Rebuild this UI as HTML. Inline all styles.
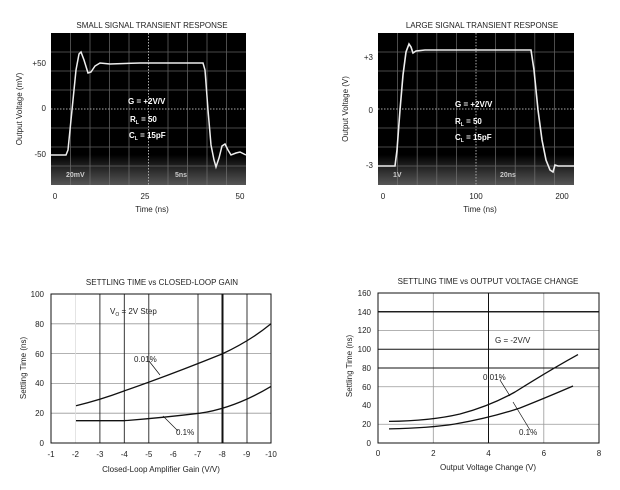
<!DOCTYPE html>
<html><head><meta charset="utf-8"><style>
html,body{margin:0;padding:0;background:#fff;}
svg{display:block;font-family:"Liberation Sans",sans-serif;}
</style></head><body>
<svg width="620" height="490" viewBox="0 0 620 490" xmlns="http://www.w3.org/2000/svg">
<defs>
<linearGradient id="glow" x1="0" y1="0" x2="0" y2="1">
<stop offset="0.8" stop-color="#000"/><stop offset="1" stop-color="#555"/>
</linearGradient>
</defs>
<!-- Chart 1 -->
<text x="152" y="28" font-size="8" text-anchor="middle" fill="#222">SMALL SIGNAL TRANSIENT RESPONSE</text>
<rect x="51" y="33" width="195" height="152" fill="url(#glow)"/>
<g stroke="#777" stroke-width="0.8" opacity="0.8">
<path d="M70.5 33V185M90 33V185M109.5 33V185M129 33V185M168 33V185M187.5 33V185M207 33V185M226.5 33V185"/>
<path d="M51 52H246M51 71H246M51 90H246M51 128H246M51 147H246M51 166H246"/>
</g>
<path d="M148.5 33V185M51 109H246" stroke="#aaa" stroke-width="1" stroke-dasharray="1.5 1.5"/>
<path d="M51 155L66 155L68 150L72 110L76 70L79 54L81 52L84 60L88 73L91 72L95 66L100 63L110 64L140 63L203 63L205 70L208 110L211 145L214 160L216 167L219 158L222 146L225 144L228 150L231 155L236 153L240 152L246 155" fill="none" stroke="#eee" stroke-width="1.5"/>
<g fill="#fff" font-weight="bold" font-size="8">
<text x="128" y="104">G = +2V/V</text>
<text x="130" y="122">R<tspan font-size="5" dy="2">L</tspan><tspan dy="-2"> = 50</tspan></text>
<text x="129" y="138">C<tspan font-size="5" dy="2">L</tspan><tspan dy="-2"> = 15pF</tspan></text>
<text x="66" y="177" fill="#ccc" font-size="7">20mV</text>
<text x="175" y="177" fill="#ccc" font-size="7">5ns</text>
</g>
<g font-size="8" fill="#222">
<text x="46" y="66" text-anchor="end">+50</text>
<text x="46" y="111" text-anchor="end">0</text>
<text x="46" y="157" text-anchor="end">-50</text>
<text x="55" y="199" text-anchor="middle">0</text>
<text x="145" y="199" text-anchor="middle">25</text>
<text x="240" y="199" text-anchor="middle">50</text>
<text x="152" y="212" text-anchor="middle">Time (ns)</text>
<text transform="translate(22,109) rotate(-90)" text-anchor="middle">Output Voltage (mV)</text>
</g>
<!-- Chart 2 -->
<text x="482" y="28" font-size="8" text-anchor="middle" fill="#222">LARGE SIGNAL TRANSIENT RESPONSE</text>
<rect x="378" y="33" width="196" height="152" fill="url(#glow)"/>
<g stroke="#777" stroke-width="0.8" opacity="0.8">
<path d="M397.6 33V185M417.2 33V185M436.8 33V185M456.4 33V185M495.6 33V185M515.2 33V185M534.8 33V185M554.4 33V185"/>
<path d="M378 52H574M378 71H574M378 90H574M378 128H574M378 147H574M378 166H574"/>
</g>
<path d="M476 33V185M378 109H574" stroke="#aaa" stroke-width="1" stroke-dasharray="1.5 1.5"/>
<path d="M378 166L395 166L397 150L400 110L403 75L406 52L409 44L411 47L413 53L416 51L425 50L531 50L534 70L538 110L542 140L546 160L550 170L553 172L555 165L558 166L574 166" fill="none" stroke="#eee" stroke-width="1.6"/>
<g fill="#fff" font-weight="bold" font-size="8">
<text x="455" y="107">G = +2V/V</text>
<text x="455" y="124">R<tspan font-size="5" dy="2">L</tspan><tspan dy="-2"> = 50</tspan></text>
<text x="455" y="140">C<tspan font-size="5" dy="2">L</tspan><tspan dy="-2"> = 15pF</tspan></text>
<text x="393" y="177" fill="#ccc" font-size="7">1V</text>
<text x="500" y="177" fill="#ccc" font-size="7">20ns</text>
</g>
<g font-size="8" fill="#222">
<text x="373" y="60" text-anchor="end">+3</text>
<text x="373" y="113" text-anchor="end">0</text>
<text x="373" y="168" text-anchor="end">-3</text>
<text x="383" y="199" text-anchor="middle">0</text>
<text x="476" y="199" text-anchor="middle">100</text>
<text x="562" y="199" text-anchor="middle">200</text>
<text x="480" y="212" text-anchor="middle">Time (ns)</text>
<text transform="translate(348,109) rotate(-90)" text-anchor="middle">Output Voltage (V)</text>
</g>
<!-- Chart 3 -->
<text x="162" y="285" font-size="8" text-anchor="middle" fill="#222">SETTLING TIME vs CLOSED-LOOP GAIN</text>
<g stroke="#999" stroke-width="0.8">
<path d="M51 413.2H271M51 383.4H271M51 353.6H271M51 323.8H271"/>
<path d="M75.4 294V443" stroke="#ddd"/>
</g>
<g stroke="#222" stroke-width="0.9">
<path d="M99.9 294V443M124.3 294V443M148.8 294V443M198 294V443M247 294V443"/>
</g>
<path d="M222.5 294V443" stroke="#111" stroke-width="2"/>
<rect x="51" y="294" width="220" height="149" fill="none" stroke="#111" stroke-width="1"/>
<path d="M76 405.7Q100 400 124 391Q170 375 222 354Q250 341 271 323.8" fill="none" stroke="#111" stroke-width="1.3"/>
<path d="M76 420.7L124 420.7Q160 418 200 413.2Q235 408 271 386.4" fill="none" stroke="#111" stroke-width="1.3"/>
<path d="M149 361L160 375M163 416L178 431" stroke="#111" stroke-width="0.7"/>
<g font-size="8" fill="#222">
<text x="110" y="314">V<tspan font-size="5" dy="2">O</tspan><tspan dy="-2"> = 2V Step</tspan></text>
<text x="134" y="362">0.01%</text>
<text x="176" y="435">0.1%</text>
<text x="44" y="297" text-anchor="end">100</text>
<text x="44" y="327" text-anchor="end">80</text>
<text x="44" y="357" text-anchor="end">60</text>
<text x="44" y="386" text-anchor="end">40</text>
<text x="44" y="416" text-anchor="end">20</text>
<text x="44" y="446" text-anchor="end">0</text>
<text x="51" y="457" text-anchor="middle">-1</text>
<text x="75.4" y="457" text-anchor="middle">-2</text>
<text x="99.9" y="457" text-anchor="middle">-3</text>
<text x="124.3" y="457" text-anchor="middle">-4</text>
<text x="148.8" y="457" text-anchor="middle">-5</text>
<text x="173.2" y="457" text-anchor="middle">-6</text>
<text x="197.7" y="457" text-anchor="middle">-7</text>
<text x="222.1" y="457" text-anchor="middle">-8</text>
<text x="246.6" y="457" text-anchor="middle">-9</text>
<text x="271" y="457" text-anchor="middle">-10</text>
<text x="161" y="472" text-anchor="middle">Closed-Loop Amplifier Gain (V/V)</text>
<text transform="translate(26,368) rotate(-90)" text-anchor="middle">Settling Time (ns)</text>
</g>
<!-- Chart 4 -->
<text x="488" y="284" font-size="8" text-anchor="middle" fill="#222">SETTLING TIME vs OUTPUT VOLTAGE CHANGE</text>
<g stroke="#999" stroke-width="0.8">
<path d="M378 424.25H599M378 386.75H599M378 330.5H599M378 311.75H599"/>
<path d="M433.3 293V443M543.8 293V443"/>
</g>
<g stroke="#111" stroke-width="1">
<path d="M378 311.75H599M378 349.25H599M378 368H599M488.5 293V443"/>
</g>
<path d="M378 311.75H599" stroke="#111" stroke-width="1.2"/>
<rect x="378" y="293" width="221" height="150" fill="none" stroke="#111" stroke-width="1"/>
<path d="M389 421.4Q430 421 460 414Q490 406 515 392Q550 370 578 354.6" fill="none" stroke="#111" stroke-width="1.3"/>
<path d="M389 428.9Q430 428 455 424Q490 418 520 408Q550 396 573 386" fill="none" stroke="#111" stroke-width="1.3"/>
<path d="M500 380L510 396M513 402L530 430" stroke="#111" stroke-width="0.7"/>
<g font-size="8" fill="#222">
<text x="495" y="343">G = -2V/V</text>
<text x="483" y="380">0.01%</text>
<text x="519" y="435">0.1%</text>
<text x="371" y="296" text-anchor="end">160</text>
<text x="371" y="315" text-anchor="end">140</text>
<text x="371" y="333" text-anchor="end">120</text>
<text x="371" y="352" text-anchor="end">100</text>
<text x="371" y="371" text-anchor="end">80</text>
<text x="371" y="390" text-anchor="end">60</text>
<text x="371" y="408" text-anchor="end">40</text>
<text x="371" y="427" text-anchor="end">20</text>
<text x="371" y="446" text-anchor="end">0</text>
<text x="378" y="456" text-anchor="middle">0</text>
<text x="433.3" y="456" text-anchor="middle">2</text>
<text x="488.5" y="456" text-anchor="middle">4</text>
<text x="543.8" y="456" text-anchor="middle">6</text>
<text x="599" y="456" text-anchor="middle">8</text>
<text x="488" y="470" text-anchor="middle">Output Voltage Change (V)</text>
<text transform="translate(352,366) rotate(-90)" text-anchor="middle">Settling Time (ns)</text>
</g>
</svg>
</body></html>
